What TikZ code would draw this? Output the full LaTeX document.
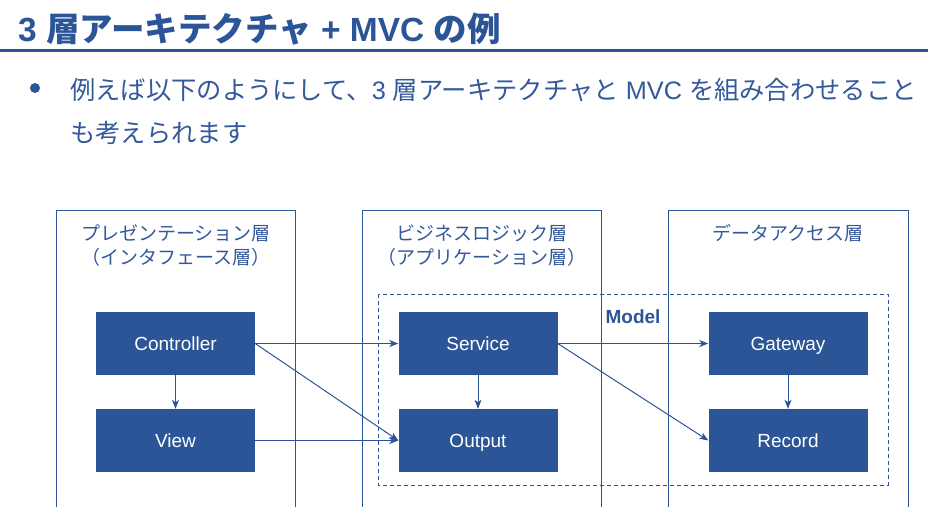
\documentclass[tikz,border=0pt]{standalone}
\usepackage{fontspec}
\setmainfont{Noto Sans CJK JP}
\newfontfamily\lat{Liberation Sans}
\usetikzlibrary{positioning,arrows.meta}
\definecolor{mvcblue}{HTML}{2B5597}
\definecolor{inkblue}{HTML}{34599B}

\tikzset{
  blk/.style={fill=mvcblue,text=white,minimum width=159,minimum height=63,
    inner sep=0pt,text height=13.6pt,text depth=0pt,font=\lat\fontsize{19}{22}\selectfont},
  layerbox/.style={draw=mvcblue,line width=1pt},
  layerlab/.style={text=inkblue,font=\fontsize{19}{23}\selectfont,inner sep=0pt},
  link/.style={draw=mvcblue,line width=1pt,-{Stealth[length=9pt,width=7pt,inset=2.5pt]}}
}

\begin{document}
\begin{tikzpicture}[x=1pt,y=-1pt]
    \useasboundingbox (0,0) rectangle (942,506);

    % heading and the bullet
    \node[anchor=base west,text=mvcblue,inner sep=0pt,font=\bfseries\fontsize{33.5}{38}\selectfont]
      (title) at (18,41) {{\lat 3 }層アーキテクチャ{\lat\ + MVC }の例};
    \draw[mvcblue,line width=3pt] (0,50) -- (928,50);
    \fill[mvcblue] (35,88) circle (5);
    \node[anchor=base west,text=inkblue,inner sep=0pt,font=\fontsize{25.3}{30}\selectfont]
      (line1) at (70,99) {例えば以下のようにして、{\lat 3 }層アーキテクチャと{\lat\ MVC }を組み合わせること};
    \node[anchor=base west,text=inkblue,inner sep=0pt,font=\fontsize{25.3}{30}\selectfont]
      (line2) at (70,142) {も考えられます};

    % the three layers
    \draw[layerbox] (56,520) -- (56,210) -- (295,210) -- (295,520);
    \draw[layerbox] (362,520) -- (362,210) -- (601,210) -- (601,520);
    \draw[layerbox] (668,520) -- (668,210) -- (908,210) -- (908,520);
    \node[layerlab] (pres) at (176,233) {プレゼンテーション層};
    \node[layerlab] (pres2) at (176,257) {（インタフェース層）};
    \node[layerlab] (biz) at (482,233) {ビジネスロジック層};
    \node[layerlab] (biz2) at (482,257) {（アプリケーション層）};
    \node[layerlab] (data) at (788,233) {データアクセス層};

    % model area
    \draw[mvcblue,line width=0.9pt,dash pattern=on 4pt off 3pt] (378,294) rectangle (888,485);
    \node[text=mvcblue,inner sep=0pt,font=\lat\bfseries\fontsize{19}{22}\selectfont]
      (model) at (633,317) {Model};

    \node[blk] (ctrl) at (175.5,343.5) {Controller};
    \node[blk] (view) at (175.5,440.5) {View};
    \node[blk] (svc)  at (478,343.5) {Service};
    \node[blk] (out)  at (478,440.5) {Output};
    \node[blk] (gw)   at (788,343.5) {Gateway};
    \node[blk] (rec)  at (788,440.5) {Record};

    \draw[link] (ctrl) -- (view);
    \draw[link] (ctrl.east) -- (svc.west);
    \draw[link] (ctrl.east) -- (out.west);
    \draw[link] (view) -- (out);
    \draw[link] (svc) -- (out);
    \draw[link] (svc.east) -- (gw.west);
    \draw[link] (svc.east) -- (rec.west);
    \draw[link] (gw) -- (rec);
  \end{tikzpicture}
\end{document}
